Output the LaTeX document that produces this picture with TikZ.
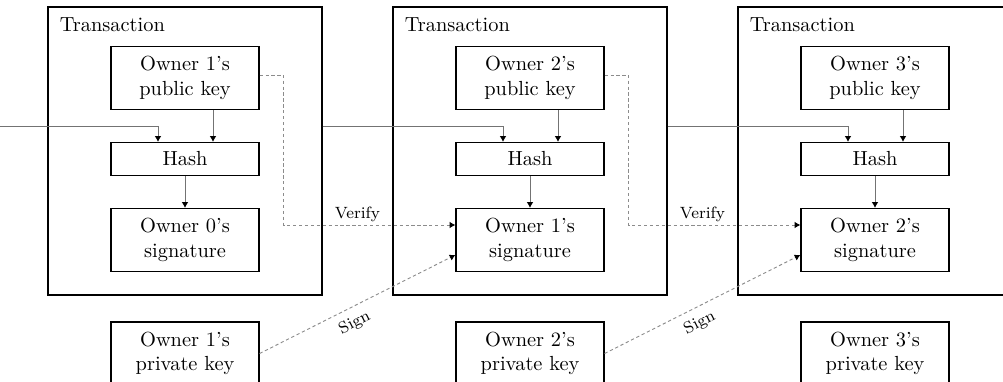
\documentclass[tikz,border=0pt]{standalone}
\usetikzlibrary{arrows.meta,calc}
\begin{document}
\begin{tikzpicture}[x=0.49pt,y=-0.49pt,
  box/.style={draw=black, line width=0.6pt, minimum width=148*0.49pt, align=center, inner sep=0pt},
  keybox/.style={box, minimum height=63*0.49pt},
  hashbox/.style={box, minimum height=33*0.49pt},
  txbox/.style={draw=black, line width=0.6pt, minimum width=274*0.49pt, minimum height=288*0.49pt, inner sep=0pt},
  flow/.style={draw=black!55, line width=0.45pt, -{Latex[length=2.8pt,width=3.2pt,black]}},
  link/.style={flow, draw=black!45, dash pattern=on 1.6pt off 1.3pt},
  lbl/.style={font=\footnotesize, inner sep=1.5pt}
]
\useasboundingbox (0,0) rectangle (1003,382);

% one column per transaction
\foreach \i/\j/\x in {1/0/185,2/1/530,3/2/875}{
  \node[txbox] (t\i) at (\x,151) {};
  \node[anchor=base west, inner sep=0pt] (tl\i) at ($(t\i.north west)+(12,25)$) {Transaction};
  \node[keybox] (p\i) at (\x,78) {Owner \i's\\public key};
  \node[hashbox] (h\i) at (\x,159) {Hash};
  \node[keybox] (s\i) at (\x,240) {Owner \j's\\signature};
  \node[keybox] (k\i) at (\x,353.5) {Owner \i's\\private key};
  \draw[flow] ($(p\i.south)+(28,0)$) -- ($(h\i.north)+(28,0)$);
  \draw[flow] (h\i) -- (s\i);
}

% hash input coming from the previous transaction
\coordinate (src) at (0,126);
\draw[flow] (src) -| ($(h1.north)+(-27,0)$);

\foreach \i/\n in {1/2,2/3}{
  \draw[flow] (t\i.east |- src) -| ($(h\n.north)+(-27,0)$);
  \draw[link] ($(p\i.east)+(0,-3)$) -- ++(24,0)
     |- node[lbl, above, pos=0.715] (v\i) {Verify} ($(s\n.west)+(0,-15)$);
  \draw[link] (k\i.east) -- node[lbl, sloped, below, pos=0.45, inner sep=3.8pt] (g\i) {Sign}
     ($(s\n.west)+(0,15)$);
}
\end{tikzpicture}
\end{document}
